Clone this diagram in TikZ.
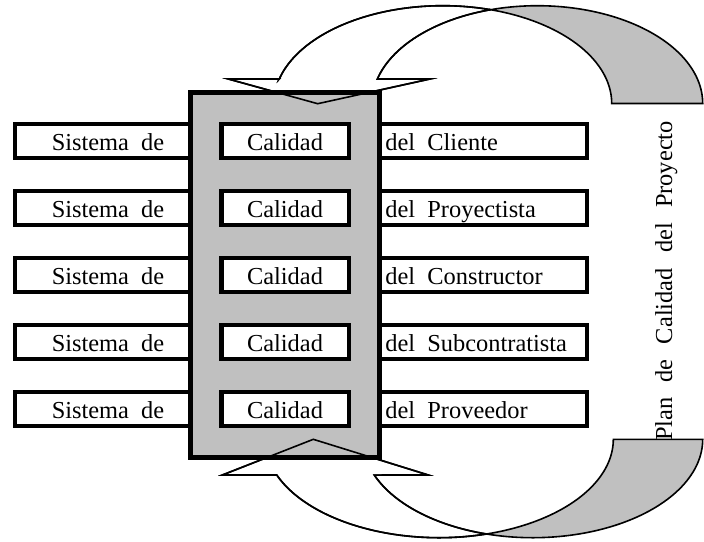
\documentclass[tikz,border=0pt]{standalone}
\usepackage{fontspec}
\setmainfont{Liberation Serif}
\definecolor{panel}{RGB}{192,192,192}
\newcommand{\wgap}{\hspace{7.6pt}}
\begin{document}
\begin{tikzpicture}[x=0.5pt,y=-0.5pt,
  boxline/.style={draw=black,line width=2.2pt,fill=white},
  panelline/.style={draw=black,line width=2.4pt,fill=panel},
  arrowline/.style={draw=black,line width=0.8pt,line join=miter},
  lbl/.style={inner sep=0pt,font=\fontsize{12.2pt}{14pt}\selectfont},
  ep/.style={domain=#1,samples=60,variable=\t}]
\useasboundingbox (0,0) rectangle (704,541);

% back (shaded) halves of the two curved arrows
\path[arrowline,fill=panel]
  plot[ep=253.3:360] ({537.4+165.3*cos(\t)},{103.5+97.8*sin(\t)})
  -- plot[ep=360:286.2] ({442.8+168.9*cos(\t)},{103.5+97.8*sin(\t)}) -- cycle;
\path[arrowline,fill=panel]
  plot[ep=106:0] ({532.7+170*cos(\t)},{439.3+98.4*sin(\t)})
  -- plot[ep=0:74.4] ({439.1+174.2*cos(\t)},{439.3+98.4*sin(\t)}) -- cycle;

% front halves ending in the arrow heads
\def\toparrow{(228.3,79) -- (279.3,79)
  -- plot[ep=194.5:286.2] ({442.8+168.9*cos(\t)},{103.5+97.8*sin(\t)})
  -- plot[ep=253.3:194.5] ({537.4+165.3*cos(\t)},{103.5+97.8*sin(\t)})
  -- (430,79) -- (317.7,103.7) -- cycle}
\def\botarrow{(222.3,475) -- (276.7,475)
  -- plot[ep=158.7:74.4] ({439.1+174.2*cos(\t)},{439.3+98.4*sin(\t)})
  -- plot[ep=106:158.7] ({532.7+170*cos(\t)},{439.3+98.4*sin(\t)})
  -- (428.3,475) -- (313.3,439.3) -- cycle}
\path[arrowline,fill=white] \toparrow;
\path[arrowline,fill=white] \botarrow;

% the five long bars
\foreach \r/\T in {1/122,2/189,3/256,4/323,5/390}{
  \path[boxline] (15,\T+2.2) rectangle (586.7,\T+36);
}

% central shaded column
\path[panelline] (190.2,92.5) rectangle (379.5,457.5);

% inner boxes
\foreach \r/\T in {1/122,2/189,3/256,4/323,5/390}{
  \path[boxline] (221.5,\T+2.2) rectangle (348.7,\T+36);
}

% arrow heads seen through the column
\path[arrowline] \toparrow;
\path[arrowline] \botarrow;

% labels
\foreach \r/\T/\w in {1/122/Cliente,2/189/Proyectista,3/256/Constructor,
                      4/323/Subcontratista,5/390/Proveedor}{
  \node[lbl,anchor=base] (sis\r) at (108,\T+28) {Sistema\ \ de};
  \node[lbl,anchor=base] (cal\r) at (285,\T+28) {Calidad};
  \node[lbl,anchor=base west] (del\r) at (385,\T+28) {del\ \ \w};
}
\node[lbl,anchor=base,rotate=90] (plan) at (672,281)
  {Plan\wgap de\wgap Calidad\wgap del\wgap Proyecto};
\end{tikzpicture}
\end{document}
